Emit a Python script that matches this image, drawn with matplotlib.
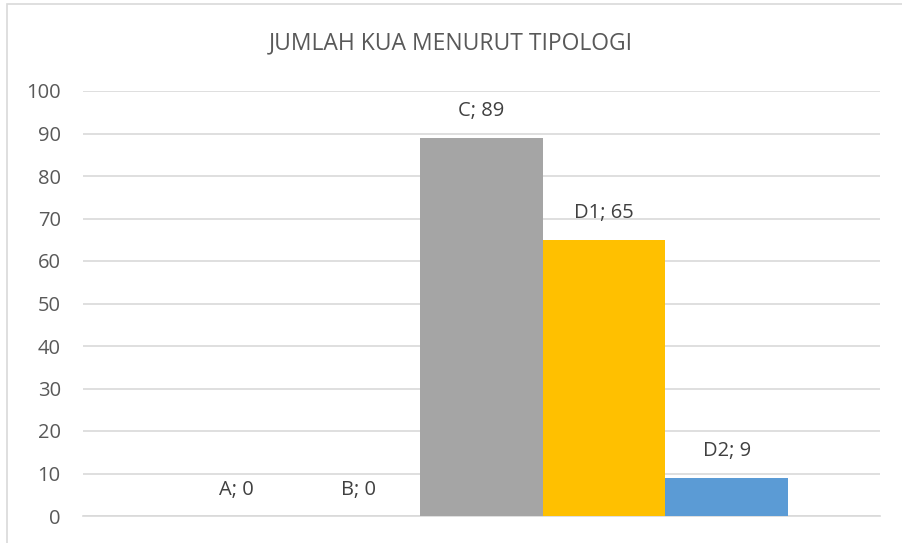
import matplotlib
matplotlib.use("Agg")
import matplotlib.pyplot as plt
from matplotlib.patches import Rectangle

categories = ["A", "B", "C", "D1", "D2"]
values = [0, 0, 89, 65, 9]
colors = ["#4472C4", "#ED7D31", "#A5A5A5", "#FFC000", "#5B9BD5"]
yticks = [0, 10, 20, 30, 40, 50, 60, 70, 80, 90, 100]
title = "JUMLAH KUA MENURUT TIPOLOGI"

plt.rcParams['font.family'] = ['Open Sans', 'DejaVu Sans']

fig = plt.figure(figsize=(9.02, 5.43), dpi=100)
ax = fig.add_axes([83/902, 1-516/543, (880-83)/902, (516-91)/543])

x = list(range(len(categories)))
ax.bar(x, values, width=1.0, color=colors, zorder=3)
for xi, v, c in zip(x, values, categories):
    ax.annotate(f"{c}; {v}", (xi, v), xytext=(0, 19), textcoords="offset points",
                ha="center", va="center", fontsize=14.5, color="#404040", zorder=4)

ax.set_xlim(-1.25, 5.25)
ax.set_ylim(0, 100)
ax.set_yticks(yticks)
ax.set_xticks([])
ax.yaxis.grid(True, color="#D9D9D9", linewidth=1.2, zorder=0)
ax.tick_params(axis="y", length=0, labelsize=14.5, labelcolor="#595959", pad=16)
for s in ["top", "right", "left"]:
    ax.spines[s].set_visible(False)
ax.spines["bottom"].set_color("#D9D9D9")
ax.spines["bottom"].set_linewidth(1.2)
ax.set_axisbelow(True)

fig.text(0.5, 1-43/543, title, ha="center", va="center", fontsize=16.5, color="#595959")

fig.patches.append(Rectangle((7/902, -0.05), 1.1, 1 - 4/543 + 0.05, transform=fig.transFigure,
                             fill=False, edgecolor="#D9D9D9", linewidth=1.2))

fig.savefig("out.png", dpi=100)
